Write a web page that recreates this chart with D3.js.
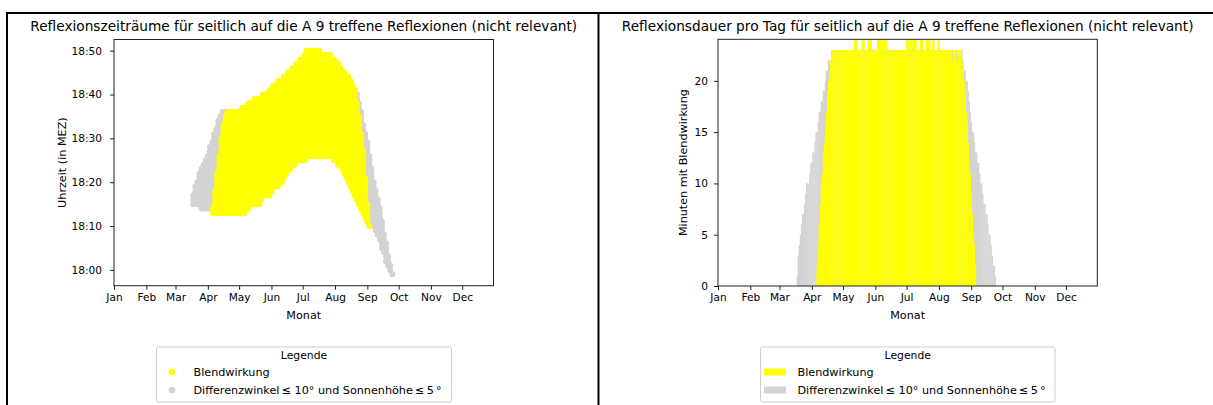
<!DOCTYPE html>
<html>
<head>
<meta charset="utf-8">
<script src="https://cdn.jsdelivr.net/npm/d3@7"></script>
<style>
  body { margin: 0; background: #fff; }
  svg { display: block; font-family: "DejaVu Sans", sans-serif; }
  text { fill: #000; }
</style>
</head>
<body>
<svg width="1213" height="405"></svg>
<script>
const year = 2021;
const monthLabels = ["Jan", "Feb", "Mar", "Apr", "May", "Jun", "Jul", "Aug", "Sep", "Oct", "Nov", "Dec"];
// minutes after 18:00
const timeTicks = [0, 10, 20, 30, 40, 50];
const timeLabels = ["18:00", "18:10", "18:20", "18:30", "18:40", "18:50"];
const durTicks = [0, 5, 10, 15, 20];

// left chart: day of year (0 = 1 Jan), first and last minute after 18:00
const blendDays = [95, 97, 99, 101, 103, 105, 107, 109, 111, 113, 115, 117, 119, 121, 123, 125, 127, 129, 131, 133,
  135, 137, 139, 141, 143, 145, 147, 149, 151, 153, 155, 157, 159, 161, 163, 165, 167, 169, 171, 173,
  175, 177, 179, 181, 183, 185, 187, 189, 191, 193, 195, 197, 199, 201, 203, 205, 207, 209, 211, 213,
  215, 217, 219, 221, 223, 225, 227, 229, 231, 233, 235, 237, 239, 241, 243, 245];
const blendFrom = [13, 13, 13, 13, 13, 13, 13, 13, 13, 13, 13, 13, 13, 13, 13, 13, 14, 14, 15, 15,
  15, 15, 15, 16, 17, 17, 17, 17, 18, 19, 19, 19, 20, 20, 21, 22, 23, 23, 24, 24,
  25, 25, 25, 25, 25, 26, 26, 26, 26, 26, 26, 26, 26, 26, 26, 26, 26, 26, 25, 25,
  24, 24, 23, 22, 21, 20, 19, 18, 17, 16, 15, 14, 13, 12, 11, 10];
const blendTo = [14, 18, 22, 26, 30, 33, 35, 36, 36, 36, 36, 36, 36, 36, 37, 37, 37, 38, 38, 38,
  39, 39, 39, 39, 40, 40, 40, 41, 41, 42, 42, 43, 43, 43, 44, 44, 45, 45, 46, 46,
  47, 47, 48, 48, 49, 50, 50, 50, 50, 50, 50, 50, 49, 49, 49, 49, 49, 48, 48, 47,
  47, 46, 45, 45, 44, 44, 43, 42, 41, 38, 35, 31, 27, 21, 15, 10];

const grayDays = [76, 78, 80, 82, 84, 86, 88, 90, 92, 94, 96, 98, 100, 102, 104, 106, 108,
  233, 235, 237, 239, 241, 243, 245, 247, 249, 251, 253, 255, 257, 259, 261, 263, 265, 267];
const grayFrom = [15, 15, 15, 15, 14, 14, 14, 14, 14, 14, 14, 14, 14, 14, 14, 14, 14,
  18, 17, 16, 15, 14, 13, 12, 11, 10, 9, 8, 7, 5, 4, 2, 1, 0, -1];
const grayTo = [17, 19, 20, 22, 23, 24, 25, 26, 28, 29, 31, 32, 34, 35, 36, 36, 36,
  40, 38, 36, 33, 31, 29, 26, 23, 20, 18, 16, 14, 11, 8, 6, 3, 1, -1];

// right chart: minutes per day, one value per day from the start day
const durBlendStart = 95;
const durBlend = [2, 4, 6, 8, 10, 11, 13, 14, 16, 17, 19, 20, 21, 22, 23,
  23, 22, 23, 23, 23, 23, 23, 23, 23, 23, 23, 23, 23, 23, 23, 23, 23, 23, 23, 23, 23,
  24, 24, 24, 23, 23, 23, 23, 24, 24, 24, 23, 23, 23, 24, 24, 24, 24, 23, 23, 23,
  23, 23, 24, 24, 24, 24, 24, 24, 24, 24, 24, 24, 23, 23, 23, 23, 23, 23, 23, 23,
  23, 23, 23, 23, 23, 23, 23, 23, 23, 23, 24, 24, 24, 24, 24, 24, 24, 24, 24, 24,
  23, 23, 23, 24, 24, 24, 23, 23, 23, 24, 24, 24, 24, 23, 23, 24, 24, 23, 23, 23,
  24, 24, 23, 23, 23, 23, 23, 23, 23, 23, 23, 23, 23, 23, 22, 23, 23, 23, 22, 23, 23, 23,
  23, 22, 21, 20, 19, 17, 16, 14, 12, 11, 9, 7, 5, 4, 2];
const durGrayStart = 76;
const durGray = [1, 3, 4, 5, 6, 7, 7, 8, 9, 10, 10, 10, 11, 12, 12, 13, 13, 14, 15, 15,
  16, 17, 17, 18, 18, 19, 19, 20, 21, 21, 22, 22, 22, 23,
  23, 23, 23, 23, 23, 23, 23, 23, 23, 23, 23, 23, 23, 23, 23, 23, 23, 23, 23, 23,
  23, 23, 23, 23, 23, 23, 23, 23, 23, 23, 23, 23, 23, 23, 23, 23, 23, 23, 23, 23,
  23, 23, 23, 23, 23, 23, 23, 23, 23, 23, 23, 23, 23, 23, 23, 23, 23, 23, 23, 23,
  23, 23, 23, 23, 23, 23, 23, 23, 23, 23, 23, 23, 23, 23, 23, 23, 23, 23, 23, 23,
  23, 23, 23, 23, 23, 23, 23, 23, 23, 23, 23, 23, 23, 23, 23, 23, 23, 23, 23, 23,
  23, 23, 23, 23, 23, 23, 23, 23, 23, 23, 23, 23, 23, 23, 23, 23, 23, 23, 23, 23,
  23, 23, 23,
  23, 23, 22, 21, 21, 20, 20, 19, 18, 17, 16, 15, 15, 14, 13, 13, 12, 12, 11, 10,
  10, 9, 8, 8, 7, 7, 6, 5, 5, 4, 3, 2, 2, 1];

const yellow = "#ffff00";
const gray = "#d3d3d3";
const toDate = d => new Date(year, 0, 1 + d);
const monthTicks = monthLabels.map((m, i) => new Date(year, i, 1));
const tickFont = 10.6, labelFont = 11.2, titleFont = 13.7;

const svg = d3.select("svg");

// page frame
svg.append("line").attr("x1", 7).attr("x2", 1213).attr("y1", 13).attr("y2", 13)
  .attr("stroke", "#000").attr("stroke-width", 2);
svg.append("line").attr("x1", 7).attr("x2", 7).attr("y1", 12).attr("y2", 405)
  .attr("stroke", "#000").attr("stroke-width", 2);
svg.append("line").attr("x1", 598.5).attr("x2", 598.5).attr("y1", 12).attr("y2", 405)
  .attr("stroke", "#000").attr("stroke-width", 2);

function frame(g, x0, x1, y0, y1) {
  g.append("rect").attr("x", x0).attr("y", y0)
    .attr("width", x1 - x0).attr("height", y1 - y0)
    .attr("fill", "none").attr("stroke", "#222").attr("stroke-width", 1);
}

function monthAxis(g, x, y1) {
  const ax = g.append("g").attr("transform", `translate(0,${y1})`)
    .call(d3.axisBottom(x).tickValues(monthTicks)
      .tickFormat((d, i) => monthLabels[i]).tickSize(4).tickPadding(3.5));
  ax.select(".domain").remove();
  ax.selectAll("line").attr("stroke", "#222");
  ax.selectAll("text").attr("font-size", tickFont).attr("font-family", "DejaVu Sans");
}

function legend(g, x0, x1, swatch) {
  g.append("rect").attr("x", x0).attr("y", 347).attr("width", x1 - x0).attr("height", 55)
    .attr("rx", 2).attr("fill", "#fff").attr("stroke", "#ccc");
  g.append("text").attr("x", (x0 + x1) / 2).attr("y", 359).attr("text-anchor", "middle")
    .attr("font-size", 10.8).text("Legende");
  const rows = [["Blendwirkung", yellow], ["Differenzwinkel\u2009\u2264 10\u00b0 und Sonnenh\u00f6he\u2009\u2264\u20095\u2009\u00b0", gray]];
  rows.forEach(([label, col], i) => {
    const cy = 372 + i * 18;
    swatch(g, cy, col);
    g.append("text").attr("x", x0 + 37).attr("y", cy + 4).attr("font-size", labelFont).text(label);
  });
}

// LEFT CHART
{
  const x0 = 114, x1 = 493.5, y0 = 39.5, y1 = 285.7;
  const g = svg.append("g");
  const x = d3.scaleTime().domain([toDate(0), toDate(364)]).range([x0, x1]);
  const y = d3.scaleLinear().domain([-3.6, 52.55]).range([y1, y0]);

  const pts = (days, from, to) => days.flatMap((d, i) =>
    d3.range(from[i], to[i] + 1).map(m => ({ d, m })));

  g.append("g").selectAll("circle").data(pts(grayDays, grayFrom, grayTo)).join("circle")
    .attr("cx", p => x(toDate(p.d))).attr("cy", p => y(p.m)).attr("r", 3).attr("fill", gray);
  g.append("g").selectAll("circle").data(pts(blendDays, blendFrom, blendTo)).join("circle")
    .attr("cx", p => x(toDate(p.d))).attr("cy", p => y(p.m)).attr("r", 3).attr("fill", yellow);

  frame(g, x0, x1, y0, y1);
  monthAxis(g, x, y1);
  const ay = g.append("g").attr("transform", `translate(${x0},0)`)
    .call(d3.axisLeft(y).tickValues(timeTicks).tickFormat((d, i) => timeLabels[i]).tickSize(4).tickPadding(8));
  ay.select(".domain").remove();
  ay.selectAll("line").attr("stroke", "#222");
  ay.selectAll("text").attr("font-size", tickFont).attr("font-family", "DejaVu Sans");

  g.append("text").attr("x", (x0 + x1) / 2).attr("y", 31).attr("text-anchor", "middle")
    .attr("font-size", titleFont).text("Reflexionszeitr\u00e4ume f\u00fcr seitlich auf die A 9 treffene Reflexionen (nicht relevant)");
  g.append("text").attr("x", (x0 + x1) / 2).attr("y", 319).attr("text-anchor", "middle")
    .attr("font-size", labelFont).text("Monat");
  g.append("text").attr("transform", `translate(66,${(y0 + y1) / 2}) rotate(-90)`)
    .attr("text-anchor", "middle").attr("font-size", labelFont).text("Uhrzeit (in MEZ)");

  legend(g, 156.5, 451.5, (gg, cy, col) =>
    gg.append("circle").attr("cx", 172).attr("cy", cy).attr("r", 3.3).attr("fill", col));
}

// RIGHT CHART
{
  const x0 = 718, x1 = 1097.3, y0 = 39.3, y1 = 286;
  const g = svg.append("g");
  const x = d3.scaleTime().domain([toDate(0), toDate(364)]).range([x0, x1]);
  const y = d3.scaleLinear().domain([0, 24.05]).range([y1, y0]);
  const w = x(toDate(1)) - x(toDate(0));

  const bars = (start, vals) => vals.map((v, i) => ({ d: start + i, v }));
  g.append("clipPath").attr("id", "clipR").append("rect")
    .attr("x", x0).attr("y", y0).attr("width", x1 - x0).attr("height", y1 - y0);
  const plot = g.append("g").attr("clip-path", "url(#clipR)");
  plot.append("g").selectAll("rect").data(bars(durGrayStart, durGray)).join("rect")
    .attr("x", b => x(toDate(b.d)) - w / 2).attr("width", w + 0.3)
    .attr("y", b => y(b.v)).attr("height", b => y(0) - y(b.v)).attr("fill", gray);
  plot.append("g").selectAll("rect").data(bars(durBlendStart, durBlend)).join("rect")
    .attr("x", b => x(toDate(b.d)) - w / 2).attr("width", w + 0.3)
    .attr("y", b => y(b.v)).attr("height", b => y(0) - y(b.v)).attr("fill", yellow);

  frame(g, x0, x1, y0, y1);
  monthAxis(g, x, y1);
  const ay = g.append("g").attr("transform", `translate(${x0},0)`)
    .call(d3.axisLeft(y).tickValues(durTicks).tickSize(4).tickPadding(6));
  ay.select(".domain").remove();
  ay.selectAll("line").attr("stroke", "#222");
  ay.selectAll("text").attr("font-size", tickFont).attr("font-family", "DejaVu Sans");

  g.append("text").attr("x", (x0 + x1) / 2).attr("y", 31).attr("text-anchor", "middle")
    .attr("font-size", titleFont).text("Reflexionsdauer pro Tag f\u00fcr seitlich auf die A 9 treffene Reflexionen (nicht relevant)");
  g.append("text").attr("x", (x0 + x1) / 2).attr("y", 319).attr("text-anchor", "middle")
    .attr("font-size", labelFont).text("Monat");
  g.append("text").attr("transform", `translate(686.5,${(y0 + y1) / 2}) rotate(-90)`)
    .attr("text-anchor", "middle").attr("font-size", labelFont).text("Minuten mit Blendwirkung");

  legend(g, 760.5, 1055, (gg, cy, col) =>
    gg.append("rect").attr("x", 764).attr("y", cy - 3.5).attr("width", 22).attr("height", 7).attr("fill", col));
}
</script>
</body>
</html>
